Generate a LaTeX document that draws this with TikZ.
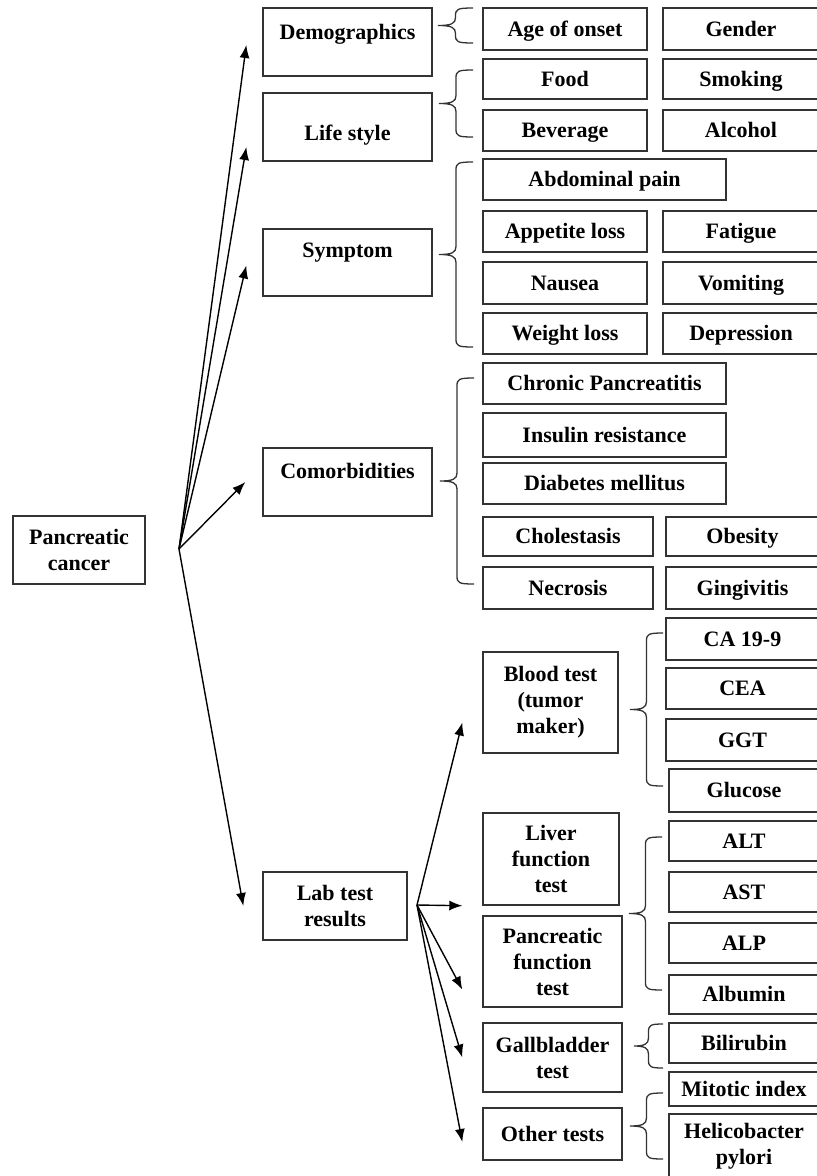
\documentclass[tikz,border=0pt]{standalone}
\usepackage{fontspec}
\setmainfont{Liberation Serif}
\usetikzlibrary{arrows.meta}

\tikzset{
  cell/.style={draw=black!80, line width=1.4pt, align=center, inner sep=1pt},
  oneline/.style={text height=15pt, text depth=1pt},
  arr/.style={-{Latex[length=13pt,width=10pt]}, line width=1.4pt},
  curl/.style={draw=black!80, line width=1.3pt},
}
% box from (x1,y1) to (x2,y2), y counted downwards
\newcommand{\cell}[6]{%
  \node[cell, oneline, minimum width={#4-#2}, minimum height={#5-#3}] (#1) at ({(#2+#4)/2},{(#3+#5)/2}) {#6};}
% same, for text on several lines
\newcommand{\cellm}[6]{%
  \node[cell, minimum width={#4-#2}, minimum height={#5-#3}] (#1) at ({(#2+#4)/2},{(#3+#5)/2}) {#6};}
% same, text moved up or down by #7
\newcommand{\cellshift}[7]{%
  \node[cell, minimum width={#4-#2}, minimum height={#5-#3},
        label={[oneline, yshift=#7]center:#6}] (#1) at ({(#2+#4)/2},{(#3+#5)/2}) {};}
% curly brace: x of the ends, top, bottom, width
\newcommand{\curly}[4]{%
  \draw[curl] (#1,#2) .. controls ({#1-#4/2+2},#2) and ({#1-#4/2},{#2+1}) .. ({#1-#4/2},{#2+8})
    -- ({#1-#4/2},{(#2+#3)/2-8}) .. controls ({#1-#4/2},{(#2+#3)/2-2}) and ({#1-#4/2-4},{(#2+#3)/2}) .. ({#1-#4},{(#2+#3)/2})
    .. controls ({#1-#4/2-4},{(#2+#3)/2}) and ({#1-#4/2},{(#2+#3)/2+2}) .. ({#1-#4/2},{(#2+#3)/2+8})
    -- ({#1-#4/2},{#3-8}) .. controls ({#1-#4/2},{#3-1}) and ({#1-#4/2+2},#3) .. (#1,#3);}

\begin{document}
\begin{tikzpicture}[x=1pt, y=-1pt, font=\fontsize{22}{26}\selectfont\bfseries]
  \useasboundingbox (0,0) rectangle (817,1176);

  % root and first level
  \cellm{pc}{13}{516}{145}{584}{Pancreatic\\cancer}
  \cellshift{demo}{263}{8}{432}{76}{Demographics}{10pt}
  \cellshift{life}{263}{93}{432}{161}{Life style}{-6pt}
  \cellshift{symp}{263}{229}{432}{296}{Symptom}{12pt}
  \cellshift{como}{263}{448}{432}{516}{Comorbidities}{11pt}
  \cellm{lab}{263}{872}{407}{940}{Lab test\\results}

  % factors, left column
  \foreach \nm/\ya/\yb/\txt in {age/8/50/Age of onset, food/59/99/Food, bev/110/151/Beverage,
      app/211/252/Appetite loss, nau/262/304/Nausea, wt/313/354/Weight loss}
    {\cell{\nm}{483}{\ya}{647}{\yb}{\txt}}
  % factors, right column
  \foreach \nm/\ya/\yb/\txt in {gen/8/50/Gender, smok/59/99/Smoking, alc/110/151/Alcohol,
      fat/211/252/Fatigue, vom/262/304/Vomiting, dep/313/354/Depression}
    {\cell{\nm}{663}{\ya}{819}{\yb}{\txt}}
  % wide ones
  \foreach \nm/\ya/\yb/\txt in {abd/159/200/Abdominal pain, chr/363/404/Chronic Pancreatitis,
      ins/413/457/Insulin resistance, dia/463/504/Diabetes mellitus}
    {\cell{\nm}{483}{\ya}{726}{\yb}{\txt}}
  \cell{chol}{483}{517}{653}{556}{Cholestasis}
  \cell{nec}{483}{567}{653}{609}{Necrosis}
  \cell{obe}{666}{517}{819}{556}{Obesity}
  \cell{gin}{666}{567}{819}{609}{Gingivitis}

  % lab tests
  \cellm{blood}{483}{652}{618}{753}{Blood test\\(tumor\\maker)}
  \cellm{liver}{483}{813}{619}{905}{Liver\\function\\test}
  \cellm{panc}{483}{916}{622}{1007}{Pancreatic\\function\\test}
  \cellm{gall}{483}{1023}{622}{1092}{Gallbladder\\test}
  \cell{other}{483}{1108}{622}{1160}{Other tests}
  \foreach \nm/\ya/\yb/\txt in {ca/618/660/CA 19-9, cea/668/709/CEA, ggt/719/761/GGT}
    {\cell{\nm}{666}{\ya}{819}{\yb}{\txt}}
  \foreach \nm/\ya/\yb/\txt in {glu/769/812/Glucose, alt/821/861/ALT, ast/872/912/AST,
      alp/923/963/ALP, alb/975/1014/Albumin, bil/1023/1063/Bilirubin, mit/1072/1106/Mitotic index}
    {\cell{\nm}{669}{\ya}{819}{\yb}{\txt}}
  \cellm{hel}{669}{1114}{819}{1178}{Helicobacter\\pylori}

  % braces
  \curly{473}{8}{43}{35}
  \curly{473}{70}{137}{34}
  \curly{473}{162}{347}{34}
  \curly{474}{378}{584}{34}
  \curly{663}{633}{786}{33}
  \curly{662}{837}{990}{33}
  \curly{663}{1024}{1068}{29}
  \curly{663}{1093}{1159}{33}

  % arrows
  \coordinate (pcfan) at (179,549);
  \draw[arr] (pcfan) -- ([xshift=-16pt,yshift=-3pt]demo.west);
  \draw[arr] (pcfan) -- ([xshift=-16pt,yshift=-20pt]life.west);
  \draw[arr] (pcfan) -- ([xshift=-16pt,yshift=-3pt]symp.west);
  \draw[arr] (pcfan) -- ([xshift=-17pt]como.west);
  \draw[arr] (pcfan) -- ([xshift=-19pt]lab.west);

  \coordinate (labfan) at (417,905);
  \draw[arr] (labfan) -- ([xshift=-20pt,yshift=-20pt]blood.west);
  \draw[arr] (labfan) -- ([xshift=-20pt]liver.south west);
  \draw[arr] (labfan) -- ([xshift=-20pt,yshift=-28pt]panc.west);
  \draw[arr] (labfan) -- ([xshift=-20pt]gall.west);
  \draw[arr] (labfan) -- ([xshift=-20pt,yshift=-8pt]other.west);
\end{tikzpicture}
\end{document}
